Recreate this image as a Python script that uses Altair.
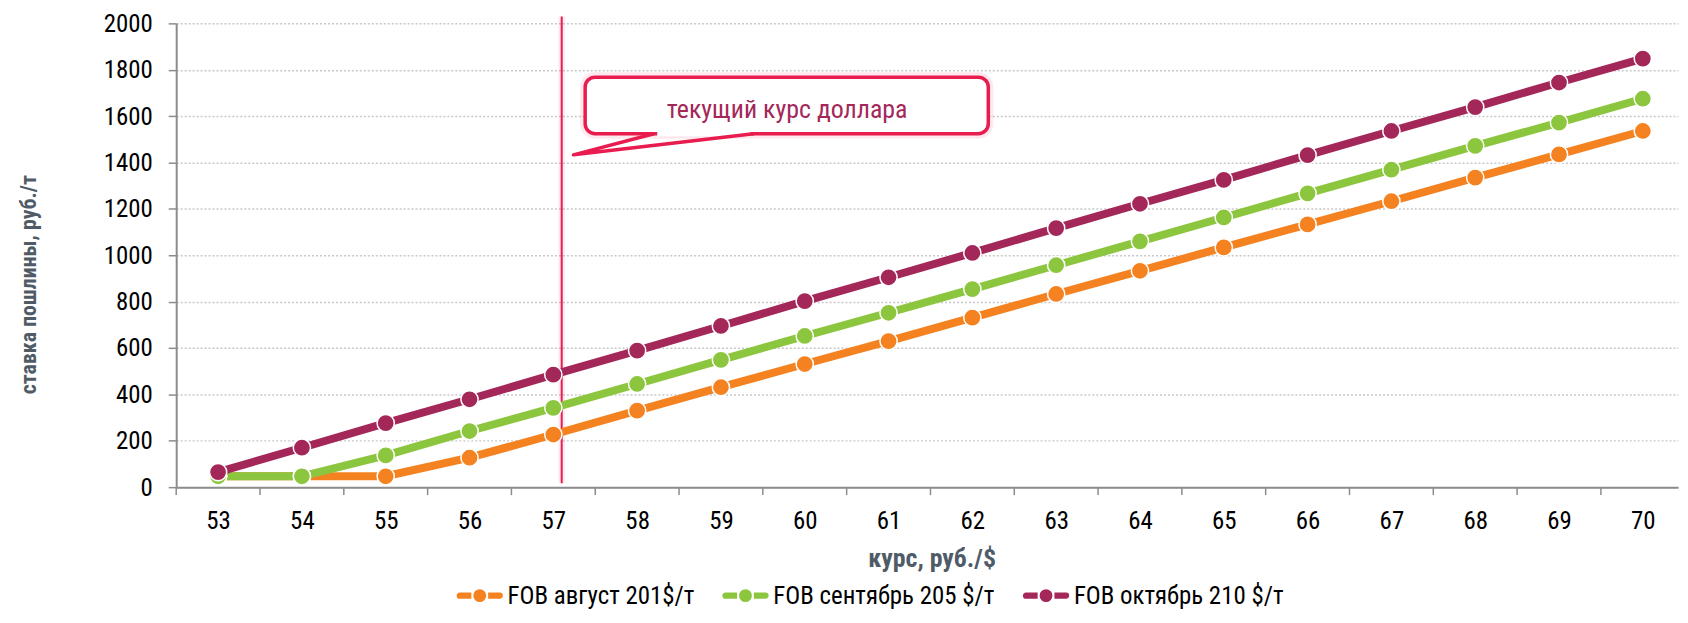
import altair as alt
import pandas as pd

# ---- data ----
rates = [53, 54, 55, 56, 57, 58, 59, 60, 61, 62, 63, 64, 65, 66, 67, 68, 69, 70]
fob_aug = [47, 47, 47, 127, 227, 330, 431, 531, 630, 731, 833, 933, 1034, 1133, 1233, 1335, 1435, 1536]
fob_sep = [47, 47, 137, 242, 342, 445, 549, 652, 752, 854, 957, 1060, 1163, 1267, 1369, 1472, 1572, 1675]
fob_oct = [65, 170, 276, 379, 485, 589, 695, 802, 905, 1010, 1117, 1222, 1325, 1432, 1536, 1639, 1745, 1848]
series_names = ["FOB август 201$/т", "FOB сентябрь 205 $/т", "FOB октябрь 210 $/т"]
series_colors = ["#f58220", "#8cc63f", "#a4275a"]
y_ticks = [0, 200, 400, 600, 800, 1000, 1200, 1400, 1600, 1800, 2000]
x_tick_bounds = [r - 0.5 for r in rates]
current_rate = 57.1
callout_text = "текущий курс доллара"
y_title = "ставка пошлины, руб./т"
x_title = "курс, руб./$"

rows = []
for name, vals in zip(series_names, [fob_aug, fob_sep, fob_oct]):
    for r, v in zip(rates, vals):
        rows.append({"rate": r, "value": v, "series": name})
df = pd.DataFrame(rows)

FONT = "'Liberation Sans Narrow', 'Arial Narrow', 'Roboto Condensed', 'DejaVu Sans Condensed', sans-serif"
TITLE_COLOR = "#4f5b66"
RED = "#e81c4f"
AXIS_GRAY = "#8c8c8c"
PLOT_W = 1509
PLOT_H = 466

x_scale = alt.Scale(domain=[52.5, 70.42], nice=False, zero=False)
y_scale = alt.Scale(domain=[0, 2000], nice=False)

x_axis = alt.Axis(
    values=rates,
    format="d",
    labelFlush=False,
    labelOverlap=False,
    labelBound=False,
    grid=False,
    domainColor=AXIS_GRAY,
    domainWidth=2,
    ticks=False,
    tickSize=0,
    labelPadding=22,
    labelFont=FONT,
    labelFontSize=25,
    labelColor="#000000",
    title=x_title,
    titleFont=FONT,
    titleFontSize=26,
    titleFontWeight="bold",
    titleColor=TITLE_COLOR,
    titleX=759,
    titleY=72,
    titleBaseline="middle",
    titleAlign="center",
)
y_axis = alt.Axis(
    values=y_ticks,
    format="d",
    grid=True,
    gridColor="#c8c8c8",
    gridDash=[2, 2],
    gridWidth=1.5,
    domainColor=AXIS_GRAY,
    domainWidth=2,
    tickColor=AXIS_GRAY,
    tickWidth=1.5,
    tickSize=8,
    labelPadding=16,
    labelFont=FONT,
    labelFontSize=25,
    labelColor="#000000",
    title=y_title,
    titleFont=FONT,
    titleFontSize=22,
    titleFontWeight="bold",
    titleColor=TITLE_COLOR,
    titleX=-148,
    titleY=262,
    titleAngle=270,
    titleBaseline="middle",
    titleAlign="center",
)


def xe(field):
    return alt.X(f"{field}:Q", scale=x_scale, axis=x_axis)


def ye(field):
    return alt.Y(f"{field}:Q", scale=y_scale, axis=y_axis)


color_scale = alt.Scale(domain=series_names, range=series_colors)

legend_path = (
    "M-0.84,-0.16 L-0.32,-0.16 L-0.32,0.16 L-0.84,0.16 A0.16,0.16 0 0,1 -0.84,-0.16 Z "
    "M0.32,-0.16 L0.84,-0.16 A0.16,0.16 0 0,1 0.84,0.16 L0.32,0.16 Z "
    "M0.3,0 A0.3,0.3 0 1,1 -0.3,0 A0.3,0.3 0 1,1 0.3,0 Z"
)

# category boundary ticks on the x axis (Excel style, between labels)
tick_df = pd.DataFrame({"b": x_tick_bounds})
x_ticks = alt.Chart(tick_df).mark_rule(color=AXIS_GRAY, strokeWidth=1.5).encode(
    x=xe("b"), y=alt.value(PLOT_H), y2=alt.value(PLOT_H + 8)
)

# one line layer per series (drawn in series order)
line_layers = []
for name, col in zip(series_names, series_colors):
    line_layers.append(
        alt.Chart(df)
        .transform_filter(alt.datum.series == name)
        .mark_line(strokeWidth=8, color=col)
        .encode(x=xe("rate"), y=ye("value"))
    )

points = alt.Chart(df).mark_circle(size=300, opacity=1, stroke="white", strokeWidth=1.5).encode(
    x=xe("rate"),
    y=ye("value"),
    fill=alt.Fill(
        "series:N",
        scale=color_scale,
        sort=series_names,
        legend=alt.Legend(
            title=None,
            orient="none",
            direction="horizontal",
            legendX=280,
            legendY=550,
            padding=0,
            symbolType=legend_path,
            symbolSize=2304,
            symbolStrokeColor="white",
            symbolStrokeWidth=1.5,
            symbolOpacity=1,
            labelFont=FONT,
            labelFontSize=25,
            labelColor="#000000",
            labelOffset=3,
            columnPadding=24,
            labelLimit=400,
        ),
    ),
)

# current exchange rate line
rate_df = pd.DataFrame({"rate": [current_rate], "y0": [17], "y1": [2030]})
rate_glow = alt.Chart(rate_df).mark_rule(color=RED, strokeWidth=7, opacity=0.08).encode(
    x=xe("rate"), y=ye("y0"), y2="y1"
)
rate_line = alt.Chart(rate_df).mark_rule(color=RED, strokeWidth=2).encode(
    x=xe("rate"), y=ye("y0"), y2="y1"
)

# callout
box_df = pd.DataFrame({"x0": [57.38], "x1": [62.19], "y0": [1524], "y1": [1768]})
box_glow = alt.Chart(box_df).mark_rect(
    cornerRadius=10, fillOpacity=0, stroke=RED, strokeWidth=10, strokeOpacity=0.1
).encode(x=xe("x0"), x2="x1", y=ye("y0"), y2="y1")
box = alt.Chart(box_df).mark_rect(
    cornerRadius=10, fill="white", stroke=RED, strokeWidth=3.5
).encode(x=xe("x0"), x2="x1", y=ye("y0"), y2="y1")

gap_df = pd.DataFrame({"x0": [58.24], "x1": [59.35], "y0": [1524]})
gap = alt.Chart(gap_df).mark_rule(color="white", strokeWidth=5).encode(
    x=xe("x0"), x2="x1", y=ye("y0")
)

tail_df = pd.DataFrame({"tx": [58.2, 57.24, 59.39], "ty": [1524, 1433, 1524], "o": [0, 1, 2]})
tail = alt.Chart(tail_df).mark_line(color=RED, strokeWidth=3.5, strokeJoin="round", strokeCap="round").encode(
    x=xe("tx"), y=ye("ty"), order="o:Q"
)

text_df = pd.DataFrame({"tx": [59.79], "ty": [1628], "label": [callout_text]})
callout = alt.Chart(text_df).mark_text(
    font=FONT, fontSize=26, color="#a4275a", baseline="middle", align="center"
).encode(x=xe("tx"), y=ye("ty"), text="label:N")

chart = alt.layer(
    x_ticks, rate_glow, rate_line, *line_layers, points, box_glow, box, gap, tail, callout
).properties(
    width=PLOT_W,
    height=PLOT_H,
    padding={"left": 169, "top": 14, "right": 2, "bottom": 124},
    autosize=alt.AutoSizeParams(type="none"),
    background="white",
).configure_view(stroke=None)

chart.save("out.html", embed_options={"renderer": "svg", "actions": False})
